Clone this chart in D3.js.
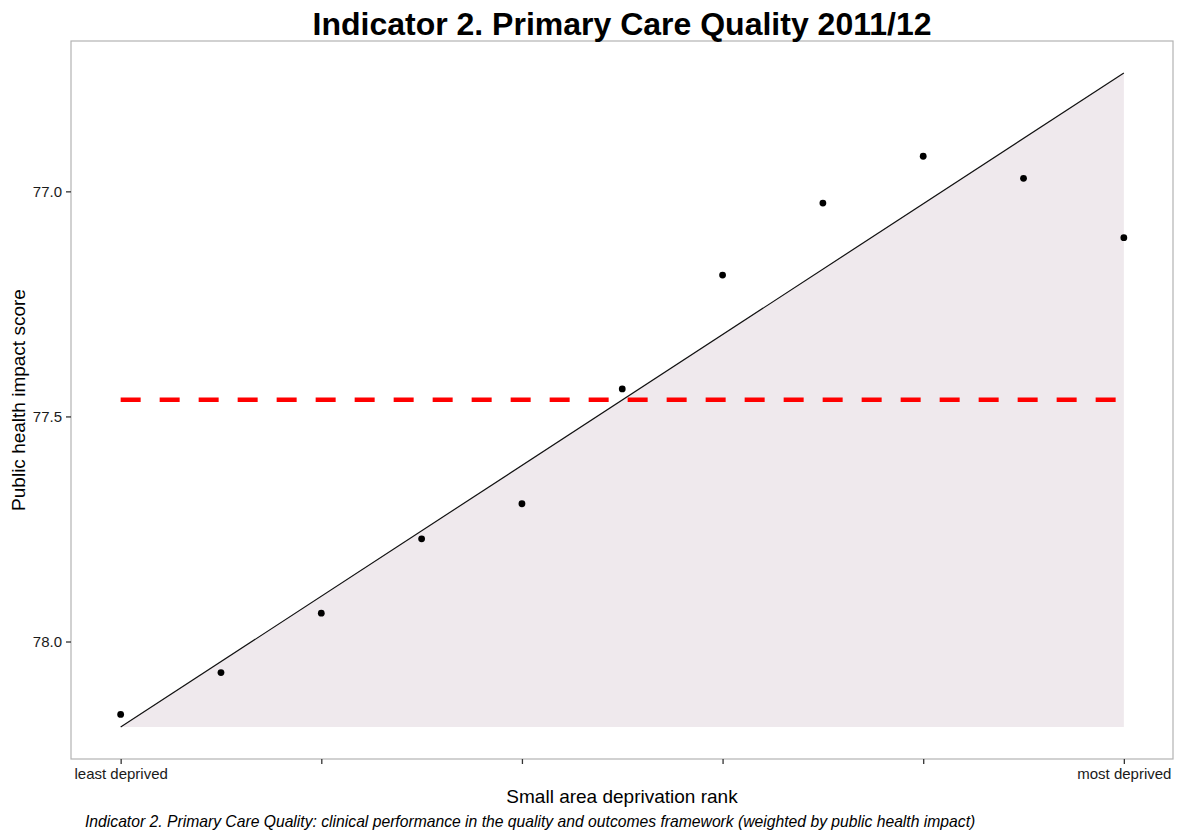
<!DOCTYPE html>
<html><head><meta charset="utf-8">
<script src="https://cdn.jsdelivr.net/npm/d3@7"></script>
<style>body{margin:0;background:#fff}svg{display:block}text{font-family:"Liberation Sans",Arial,sans-serif}</style>
</head><body>
<script>
const ranks = [1,2,3,4,5,6,7,8,9,10,11];
const scores = [78.162,78.069,77.937,77.772,77.694,77.439,77.186,77.026,76.922,76.971,77.103];
const meanScore = 77.463;
const fitStart = 78.190, fitEnd = 76.737;
const xTicks = [1,3,5,7,9,11];
const xTickLabels = ["least deprived","","","","","most deprived"];
const yTicks = [77.0,77.5,78.0];

const W=1179,H=835;
const svg=d3.select("body").append("svg").attr("width",W).attr("height",H);
const L=71,R=1173,T=41,B=759;
const x=d3.scaleLinear().domain([0.505,11.49]).range([L,R]);
const y=d3.scaleLinear().domain([76.666,78.261]).range([T,B]);

// shaded area under fit line
const fit=[{r:ranks[0],v:fitStart},{r:ranks[ranks.length-1],v:fitEnd}];
svg.append("path")
  .attr("d",d3.area().x(d=>x(d.r)).y0(y(fitStart)).y1(d=>y(d.v))(fit))
  .attr("fill","#efe9ed");
// panel border
svg.append("rect").attr("x",L).attr("y",T).attr("width",R-L).attr("height",B-T)
  .attr("fill","none").attr("stroke","#b3b3b3").attr("stroke-width",1.2);
// fit line
svg.append("path").attr("d",d3.line().x(d=>x(d.r)).y(d=>y(d.v))(fit))
  .attr("stroke","#111").attr("stroke-width",1.2).attr("fill","none");
// mean dashed line
svg.append("line").attr("x1",x(ranks[0])).attr("x2",x(ranks[ranks.length-1]))
  .attr("y1",y(meanScore)).attr("y2",y(meanScore))
  .attr("stroke","#ff0000").attr("stroke-width",4.5).attr("stroke-dasharray","20,19");
// points
svg.selectAll("circle.pt").data(ranks).enter().append("circle")
  .attr("cx",d=>x(d)).attr("cy",(d,i)=>y(scores[i])).attr("r",3.4).attr("fill","#000");

// axes
const xa=svg.append("g").attr("transform",`translate(0,${B})`)
  .call(d3.axisBottom(x).tickValues(xTicks).tickSize(5).tickSizeOuter(0).tickPadding(4)
  .tickFormat((d,i)=>xTickLabels[i]));
xa.select(".domain").remove();
xa.selectAll("line").attr("stroke","#333").attr("stroke-width",1.3);
xa.selectAll("text").attr("font-size",15).attr("fill","#1a1a1a").attr("font-family","Liberation Sans, Arial, sans-serif");

const ya=svg.append("g").attr("transform",`translate(${L},0)`)
  .call(d3.axisLeft(y).tickValues(yTicks).tickSize(5).tickSizeOuter(0).tickPadding(4).tickFormat(d3.format(".1f")));
ya.select(".domain").remove();
ya.selectAll("line").attr("stroke","#333").attr("stroke-width",1.3);
ya.selectAll("text").attr("font-size",15).attr("fill","#1a1a1a").attr("font-family","Liberation Sans, Arial, sans-serif");

// titles
svg.append("text").attr("x",622).attr("y",35).attr("text-anchor","middle")
  .attr("font-size",32).attr("font-weight","bold").attr("fill","#000")
  .text("Indicator 2. Primary Care Quality 2011/12");
svg.append("text").attr("x",622).attr("y",803).attr("text-anchor","middle")
  .attr("font-size",19).attr("fill","#000").text("Small area deprivation rank");
svg.append("text").attr("transform","translate(25,400) rotate(-90)").attr("text-anchor","middle")
  .attr("font-size",19).attr("fill","#000").text("Public health impact score");
svg.append("text").attr("x",85).attr("y",827).attr("font-size",15.7).attr("font-style","italic").attr("fill","#000")
  .text("Indicator 2. Primary Care Quality: clinical performance in the quality and outcomes framework (weighted by public health impact)");
</script>
</body></html>
